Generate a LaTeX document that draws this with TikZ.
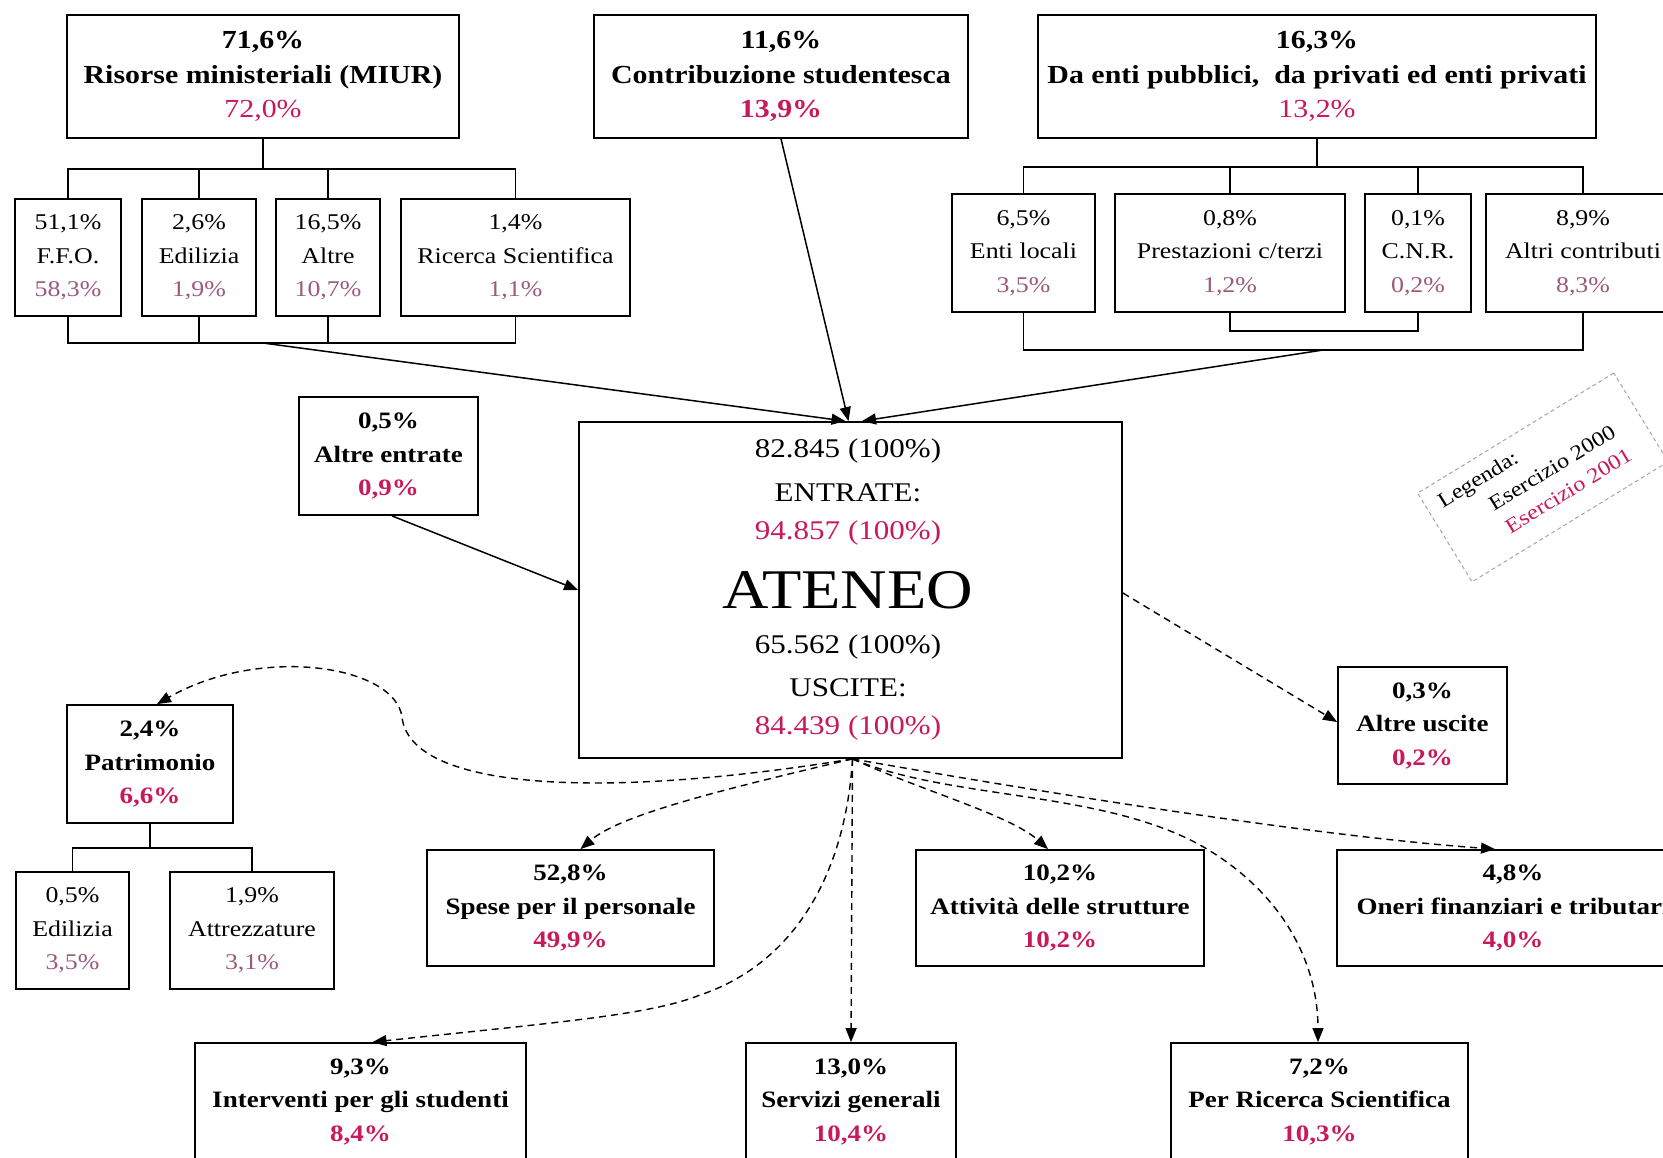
\documentclass[tikz,border=0pt]{standalone}
\usepackage{fontspec}
\setmainfont{Liberation Serif}[FakeStretch=1.15]
\usetikzlibrary{arrows.meta}
\definecolor{mag}{RGB}{200,25,90}
\definecolor{magl}{RGB}{155,90,125}
\newcommand\fTop{\fontsize{26}{34.5}\selectfont}
\newcommand\fSub{\fontsize{22.5}{33.5}\selectfont}
\newcommand\fMid{\fontsize{23.5}{33.5}\selectfont}
\newcommand\fBig{\fontsize{27}{40}\selectfont}
\newcommand\fHuge{\fontsize{56}{60}\selectfont}
\newcommand\fLeg{\fontsize{21}{28}\selectfont}
\begin{document}
\begin{tikzpicture}[x=1pt,y=-1pt,
  box/.style={draw, line width=1.8pt, inner sep=0pt, align=center},
  topbox/.style={box, font=\fTop, minimum height=123},
  subbox/.style={box, font=\fSub, minimum height=117},
  midbox/.style={box, font=\fMid\bfseries, minimum height=117},
  txt/.style={inner sep=0pt},
  tree/.style={line width=1.6pt},
  flow/.style={line width=1.5pt, -{Triangle[length=14pt,width=11pt]}},
  dflow/.style={line width=1.4pt, dash pattern=on 7pt off 5pt, -{Triangle[length=14pt,width=11pt]}},
  legbox/.style={draw=gray!70, line width=1pt, dash pattern=on 4pt off 3pt, inner sep=0pt},
]
\clip (0,0) rectangle (1663,1157);
\fill[white] (0,0) rectangle (1663,1157);

% ---------- top row ----------
\node[topbox, minimum width=392] (risorse) at (263,76.5)
  {\textbf{71,6\%}\\\textbf{Risorse ministeriali (MIUR)}\\\textcolor{mag}{72,0\%}};
\node[topbox, minimum width=374] (contrib) at (781,76.5)
  {\textbf{11,6\%}\\\textbf{Contribuzione studentesca}\\\textcolor{mag}{\textbf{13,9\%}}};
\node[topbox, minimum width=558] (daenti) at (1317,76.5)
  {\textbf{16,3\%}\\\textbf{Da enti pubblici,~ da privati ed enti privati}\\\textcolor{mag}{13,2\%}};

% ---------- second row left ----------
\node[subbox, minimum width=106] (ffo) at (68,257.5) {51,1\%\\F.F.O.\\\textcolor{magl}{58,3\%}};
\node[subbox, minimum width=114] (edil1) at (199,257.5) {2,6\%\\Edilizia\\\textcolor{magl}{1,9\%}};
\node[subbox, minimum width=104] (altre1) at (328,257.5) {16,5\%\\Altre\\\textcolor{magl}{10,7\%}};
\node[subbox, minimum width=229] (ricerca1) at (515.5,257.5) {1,4\%\\Ricerca Scientifica\\\textcolor{magl}{1,1\%}};

% ---------- second row right ----------
\node[subbox, minimum width=143, minimum height=118] (enti) at (1023.5,253) {6,5\%\\Enti locali\\\textcolor{magl}{3,5\%}};
\node[subbox, minimum width=230, minimum height=118] (prest) at (1230,253) {0,8\%\\Prestazioni c/terzi\\\textcolor{magl}{1,2\%}};
\node[subbox, minimum width=106, minimum height=118] (cnr) at (1418,253) {0,1\%\\C.N.R.\\\textcolor{magl}{0,2\%}};
\node[subbox, minimum width=194, minimum height=118] (altric) at (1583,253) {8,9\%\\Altri contributi\\\textcolor{magl}{8,3\%}};

% ---------- tree connectors top ----------
\draw[tree] (risorse.south) -- ++(0,30) coordinate (rj);
\draw[tree] (ffo.north) -- (ffo.north |- rj) -- (ricerca1.north |- rj) -- (ricerca1.north);
\draw[tree] (edil1.north) -- (edil1.north |- rj);
\draw[tree] (altre1.north) -- (altre1.north |- rj);
\coordinate (rb) at (263,343);
\draw[tree] (ffo.south) -- (ffo.south |- rb) -- (ricerca1.south |- rb) -- (ricerca1.south);
\draw[tree] (edil1.south) -- (edil1.south |- rb);
\draw[tree] (altre1.south) -- (altre1.south |- rb);

\draw[tree] (daenti.south) -- ++(0,28) coordinate (dj);
\draw[tree] (enti.north) -- (enti.north |- dj) -- (altric.north |- dj) -- (altric.north);
\draw[tree] (prest.north) -- (prest.north |- dj);
\draw[tree] (cnr.north) -- (cnr.north |- dj);
\coordinate (db) at (1323,350);
\coordinate (pc) at (1300,331);
\draw[tree] (enti.south) -- (enti.south |- db) -- (altric.south |- db) -- (altric.south);
\draw[tree] (prest.south) -- (prest.south |- pc) -- (cnr.south |- pc) -- (cnr.south);

% ---------- ATENEO ----------
\node[box, minimum width=543, minimum height=336] (ateneo) at (850.5,590) {};
\node[txt, font=\fBig] (a1) at (848,451) {82.845 (100\%)};
\node[txt, font=\fBig] (a2) at (848,493) {ENTRATE:};
\node[txt, font=\fBig, text=mag] (a3) at (848,533) {94.857 (100\%)};
\node[txt, font=\fHuge] (a4) at (848,590) {ATENEO};
\node[txt, font=\fBig] (a5) at (848,647) {65.562 (100\%)};
\node[txt, font=\fBig] (a6) at (848,688) {USCITE:};
\node[txt, font=\fBig, text=mag] (a7) at (848,728) {84.439 (100\%)};

\node[midbox, minimum width=179, minimum height=118] (altreE) at (388.5,456) {0,5\%\\Altre entrate\\\textcolor{mag}{0,9\%}};
\node[midbox, minimum width=169] (altreU) at (1422.5,725.5) {0,3\%\\Altre uscite\\\textcolor{mag}{0,2\%}};

% ---------- incoming arrows ----------
\draw[flow] (rb) -- ([xshift=-5pt]ateneo.north);
\draw[flow] (contrib.south) -- ([xshift=-2pt]ateneo.north);
\draw[flow] (db) -- ([xshift=11.5pt]ateneo.north);
\draw[flow] ([xshift=3.5pt]altreE.south) -- (ateneo.west);

% ---------- lower boxes ----------
\node[midbox, minimum width=166, minimum height=118] (patr) at (150,764) {2,4\%\\Patrimonio\\\textcolor{mag}{6,6\%}};
\node[subbox, minimum width=113] (edil2) at (72.5,930.5) {0,5\%\\Edilizia\\\textcolor{magl}{3,5\%}};
\node[subbox, minimum width=164] (attr) at (252,930.5) {1,9\%\\Attrezzature\\\textcolor{magl}{3,1\%}};
\draw[tree] (patr.south) -- ++(0,24) coordinate (pj);
\draw[tree] (edil2.north) -- (edil2.north |- pj) -- (attr.north |- pj) -- (attr.north);

\node[midbox, minimum width=287, minimum height=116] (spese) at (570.5,908) {52,8\%\\Spese per il personale\\\textcolor{mag}{49,9\%}};
\node[midbox, minimum width=288, minimum height=116] (attiv) at (1060,908) {10,2\%\\Attività delle strutture\\\textcolor{mag}{10,2\%}};
\node[midbox, minimum width=352, minimum height=116] (oneri) at (1513,908) {4,8\%\\Oneri finanziari e tributari\\\textcolor{mag}{4,0\%}};

\node[midbox, minimum width=331] (interv) at (360.5,1101.5) {9,3\%\\Interventi per gli studenti\\\textcolor{mag}{8,4\%}};
\node[midbox, minimum width=210] (servizi) at (851,1101.5) {13,0\%\\Servizi generali\\\textcolor{mag}{10,4\%}};
\node[midbox, minimum width=297] (perric) at (1319.5,1101.5) {7,2\%\\Per Ricerca Scientifica\\\textcolor{mag}{10,3\%}};

% ---------- outgoing dashed arrows ----------
\coordinate (ab) at ([xshift=2pt]ateneo.south);
\draw[dflow] (ab) .. controls (600,800) and (410,790) .. (402,717)
  .. controls (395,665) and (260,645) .. ([xshift=7pt]patr.north);
\draw[dflow] (ab) .. controls (720,790) and (620,815) .. ([xshift=10pt]spese.north);
\draw[dflow] (ab) .. controls (845,880) and (790,965) .. (700,995)
  .. controls (650,1015) and (560,1022) .. ([xshift=12pt]interv.north);
\draw[dflow] (ab) -- (servizi.north);
\draw[dflow] (ab) .. controls (920,790) and (1010,815) .. ([xshift=-12pt]attiv.north);
\draw[dflow] (ab) .. controls (950,800) and (1100,790) .. (1200,845)
  .. controls (1280,890) and (1318,960) .. ([xshift=-1.5pt]perric.north);
\draw[dflow] (ab) .. controls (1000,785) and (1300,835) .. ([xshift=-18pt]oneri.north);
\draw[dflow] ([yshift=-3pt]ateneo.east) -- ([yshift=3.5pt]altreU.west);

% ---------- legend ----------
\begin{scope}[shift={(1417,493)}, rotate=31.5, transform shape]
  \node[legbox, minimum width=230, minimum height=104, anchor=north west] (legend) at (0,0) {};
  \node[txt, font=\fLeg, anchor=base west] (leg1) at (14,27) {Legenda:};
  \node[txt, font=\fLeg, anchor=base west] (leg2) at (56,56) {Esercizio 2000};
  \node[txt, font=\fLeg, anchor=base west, text=mag] (leg3) at (58,84) {Esercizio 2001};
\end{scope}
\end{tikzpicture}
\end{document}
